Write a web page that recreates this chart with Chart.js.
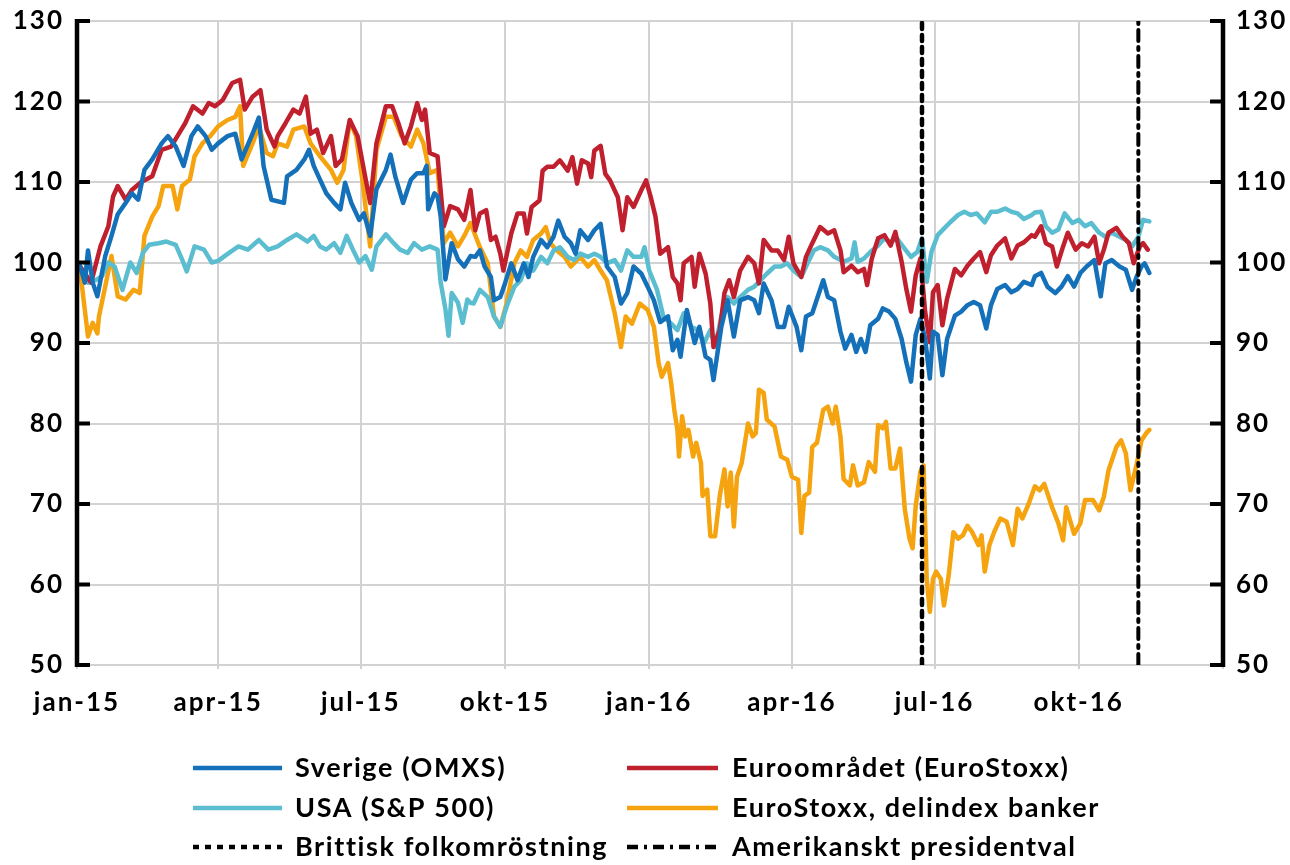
<!DOCTYPE html>
<html><head><meta charset="utf-8">
<script src="https://cdn.jsdelivr.net/npm/chart.js@4.4.1/dist/chart.umd.min.js"></script>
<style>
html,body{margin:0;padding:0;background:#fff;}
#wrap{position:relative;width:1290px;height:865px;}
</style></head><body>
<div id="wrap"><canvas id="c" width="1290" height="865"></canvas></div>
<script>
// x values: days since 1 Jan 2015
const quarterDays = [0, 90, 181, 273, 365, 456, 547, 639, 731];
const quarterLabels = ['jan-15','apr-15','jul-15','okt-15','jan-16','apr-16','jul-16','okt-16',''];
const yTicks = [50,60,70,80,90,100,110,120,130];

const seriesNames = ['Sverige (OMXS)','Euroområdet (EuroStoxx)','USA (S&P 500)','EuroStoxx, delindex banker'];
const eventNames = ['Brittisk folkomröstning','Amerikanskt presidentval'];
const eventDays = [539, 677];

const omxsDays = [0,2,5,7,10,13,18,22,26,31,35,39,43,48,54,58,63,68,73,77,82,86,90,96,101,105,112,116,119,124,132,134,140,145,148,151,155,159,164,168,171,175,180,183,187,191,197,200,203,208,213,217,221,223,224,228,230,232,235,239,243,247,251,254,257,260,264,266,270,273,277,281,285,288,291,296,300,304,307,311,315,318,321,326,330,334,338,343,347,351,355,360,364,368,372,377,380,383,385,389,394,397,401,404,406,411,415,419,423,428,432,435,438,443,447,451,454,459,462,465,469,476,479,483,487,490,494,497,500,503,506,511,514,518,522,526,529,532,535,538,541,544,546,549,552,555,560,564,568,572,576,580,583,587,592,596,600,604,609,611,615,619,624,628,632,636,640,644,649,653,656,660,665,669,673,676,679,681,684];
const omxsVals = [100,99.5,97.5,101.5,97.5,95.8,100.8,103.3,106,107.4,108.6,107.8,111.5,112.8,114.8,115.7,114.4,112,115.7,116.9,115.7,114,114.8,115.7,116,112.8,116,118,112,107.8,107.4,110.7,111.5,112.8,114,112,110.3,108.6,107.4,106.6,109.9,107.4,105.3,106.1,103.3,109.1,111.5,113.4,110.7,107.4,110.3,111.1,111.1,112,106.6,108.6,108.2,105.7,97.9,102.4,100.4,99.5,100.8,100.7,101.5,99.5,98.2,95.3,95.7,97.4,99.9,97.8,99.9,98.2,100.7,102.8,101.9,103.2,105.2,103.2,102.4,101.1,104,102.8,104,104.8,99.5,98.2,94.9,96.2,99.5,98.6,97,95.3,92.6,93.3,89.1,90.4,88.3,94.1,90,92,88.3,87.9,85.4,92,95.3,90.8,95.3,95.7,95.3,93.7,97.4,95.3,92,92,94.5,92,89.1,93.3,93.7,97.8,95.7,95.3,91.4,89.3,91,88.9,90.5,88.9,92.2,93,94.3,93.9,93,90.5,87.6,85.2,91,93,90.5,85.6,91.4,91,86,90.5,93.4,93.9,94.7,95.1,94.7,91.8,94.7,96.7,97.2,96.3,96.7,97.6,97.2,98.3,98.7,97,96.2,97,98.3,97,98.7,99.5,100.3,95.8,99.9,100.3,99.5,99.1,96.6,98.3,99.5,99.9,98.7];

const euroDays = [0,2,9,15,20,23,26,31,35,41,48,54,60,65,69,74,80,84,88,93,99,104,107,112,117,121,126,128,133,138,142,146,149,153,157,162,165,169,174,179,183,187,191,197,201,205,209,213,217,220,222,225,230,234,238,243,247,251,254,257,261,264,267,270,272,277,281,285,287,290,295,297,300,304,308,313,316,319,322,326,328,330,334,337,340,345,348,351,355,360,363,366,369,372,377,380,383,385,387,392,394,397,401,404,406,410,413,416,419,423,428,432,435,438,443,447,451,454,457,462,465,469,474,479,483,487,489,494,498,502,504,507,511,515,519,522,526,529,532,535,538,541,544,546,549,552,555,560,564,568,572,576,580,583,587,592,596,600,604,609,611,615,618,622,625,629,632,637,641,645,649,652,655,658,663,667,671,674,678,680,683];
const euroVals = [100,99.5,97.5,102,104.5,108.2,109.5,107.8,109,110,110.7,114,114.4,116,117.3,119.4,118.5,119.8,119.4,120.2,122.3,122.7,119,120.6,121.4,116.5,114.4,115.7,117.3,119,118.5,120.6,116,116.5,113.6,115.7,112,112.8,117.7,115.7,111.5,107.4,114.8,119.4,119.4,117.3,114.8,116.9,119.8,117.7,119,113.6,113.2,104.5,107,106.6,105.3,109,104,106.1,106.5,102.8,103.2,101.1,99,103.6,106.1,106.1,103.6,106.9,107.7,111.4,111.9,111.9,112.7,111.4,113.1,109.8,112.7,112.3,110.6,113.9,114.5,111,110.2,108.1,104,108.1,106.9,109,110.2,108.1,105.7,101.1,101.9,98.2,97.4,95.3,99.9,100.7,97,101.1,98.6,94.9,89.5,91.6,96.2,97.8,95.7,99,100.7,99.9,97.4,102.8,101.5,101.5,100.3,103.2,99.9,98.2,100.7,102.4,104.4,103.6,104,101.5,98.8,99.6,98.8,99.2,97.2,100.5,103,103.4,102.1,103.8,100.1,96.7,93.9,98.4,100.5,93.9,90.1,96.3,97.2,92.2,95.5,99.2,98.4,99.6,100.5,101.3,98.8,100.9,102.1,103,100.5,102.1,102.5,103.4,103.2,104.5,102.4,102,99.5,102,103.7,101.6,102.4,102,103.2,99.9,101.6,103.7,104.3,103.2,102.4,99.9,102,102.4,101.6];

const usaDays = [0,2,7,12,16,20,24,29,34,38,42,46,52,57,63,67,70,75,81,86,90,97,103,109,116,122,128,134,140,147,151,155,159,164,168,172,176,180,184,188,191,197,202,206,211,215,220,225,230,232,235,237,239,243,246,249,251,253,257,262,266,270,274,279,283,287,291,296,300,304,308,313,317,321,326,330,334,338,343,347,351,355,360,362,365,370,374,379,383,387,392,396,400,404,407,411,415,419,423,428,432,436,440,445,449,453,457,462,466,470,474,479,483,487,489,494,496,498,502,506,511,515,519,523,528,532,536,539,542,545,549,553,557,562,566,570,574,579,583,587,592,596,600,604,609,611,615,618,622,626,630,635,639,643,647,652,656,660,665,669,673,677,680,684];
const usaVals = [100,99.5,97.5,97.8,98.3,100,99.5,96.6,100,98.7,101.2,102.2,102.4,102.6,102.2,100.4,98.9,102,101.6,100,100.2,101.2,102,101.6,102.8,101.6,102,102.8,103.5,102.6,103.3,102,101.6,102.4,101.2,103.3,101.6,100,100.8,99.1,102,103.5,102.4,101.6,101.2,102.4,101.6,102,101.6,97.5,94.2,90.9,96.2,95,92.5,95.4,95,94.9,96.6,95.7,93.3,92,94.5,97,97.8,99.9,99,100.7,99.9,101.5,101.9,100.7,100.3,101.1,100.7,101.1,100.7,99.9,100.3,99,101.5,100.7,100.7,101.9,99,96.6,93.3,92.4,91.6,93.7,92,91.6,90,91.6,89.5,93.3,95.7,94.9,95.7,96.6,97,97.8,98.6,99.5,99.5,99.9,99,98.2,99.9,101.5,101.9,101.5,100.7,100.3,100.1,100.5,102.5,100.1,100.5,101.3,102.1,103,102.5,103,101.7,100.7,101.3,103,97.6,101.3,103.4,104.2,105,105.9,106.3,105.9,106.1,105,106.3,106.3,106.7,106.3,106.1,105.4,105.9,106.2,106.3,104.5,103.7,104.1,106.1,104.9,105.3,104.5,104.9,103.7,103.2,103.7,103.2,102.8,102,103.2,105.3,105.1];

const bankDays = [0,2,7,10,13,14,18,22,26,31,36,40,43,48,52,55,61,64,67,72,75,80,85,90,96,101,104,106,112,116,121,125,128,134,138,145,149,155,162,166,170,174,178,182,187,191,197,202,207,213,217,221,225,230,234,238,243,247,251,257,262,266,270,274,279,283,287,291,296,299,302,306,311,315,321,326,330,334,338,343,347,350,354,359,364,368,371,373,377,379,381,383,384,386,388,390,393,395,398,399,402,404,407,410,413,415,417,419,421,424,428,431,433,435,438,440,445,449,453,456,460,462,464,467,469,472,476,479,482,484,487,489,493,495,498,502,505,509,511,514,516,519,522,525,528,531,533,535,538,540,542,544,546,548,551,553,556,559,562,565,568,571,575,577,579,582,585,589,593,597,600,603,607,611,614,617,622,626,629,631,636,640,643,648,652,655,658,663,666,669,672,676,679,682,684];
const bankVals = [100,99,90.8,92.5,91.2,93.3,97,100.8,95.8,95.4,96.6,96.2,103.3,105.7,107,109.5,109.5,106.6,109.5,110.3,113.2,114.8,115.7,116.9,117.7,118.1,119.4,112,114.8,116.9,113.6,113.2,114.8,114.4,116.5,116.9,114.8,113.2,111.5,109.9,111.5,117.7,115.7,110.3,102,114,118.1,118.1,115.7,114.4,116.5,114.8,111.1,111.5,102.4,103.7,102,103.3,104.9,101.9,99.9,93.3,92,94.9,99.9,101.5,100.7,102.8,103.6,104.4,102.4,101.5,100.7,99.5,100.7,99.5,100.3,99,97.8,93.7,89.5,93.3,92.4,94.9,94.1,92,87.5,85.8,87.5,85,81.7,79.2,75.9,80.9,78.4,79.2,75.9,77.6,75.1,71,71.8,66,66,71,74.3,69.7,73.9,67.2,73.4,75.1,80,78.4,78.8,84.2,83.8,80.5,79.6,75.9,75.5,73.4,73,66.4,71,71.4,77.1,77.6,81.7,82.1,80,82.1,78.4,73.1,72.3,74.8,72.3,72.7,75.2,74,79.8,79.4,80.2,74.4,74.4,76.9,69.4,65.7,64.5,69.8,74,74.8,60.7,56.6,60.7,61.6,60.7,57.4,61.1,66.5,65.7,66.1,67.3,66.5,64.9,66.1,61.6,64.9,66.5,68.2,67.8,64.9,69.4,68.2,70,72.2,71.7,72.5,69.6,67.6,65.5,69.6,66.3,67.6,70.5,70.5,69.2,70.9,74.2,77.1,77.9,76.3,71.7,75,77.9,78.8,79.2];

const colors = ['#1470B8', '#C01F2E', '#5BBDD0', '#F5A30F'];

function pts(days, vals) { return days.map((d, i) => ({ x: d, y: vals[i] })); }
function eventLine(i) { return [{ x: eventDays[i], y: 50 }, { x: eventDays[i], y: 130 }]; }

const dashBrexit = [6, 6];
const dashElection = [11, 6, 3, 6];
const FONT = 'Lato, "Open Sans", sans-serif';

const spacingPlugin = {
  id: 'spacing',
  beforeDraw(chart) { try { chart.ctx.letterSpacing = '2px'; } catch (e) {} }
};

const framePlugin = {
  id: 'frame',
  afterDraw(chart) {
    const ctx = chart.ctx;
    const a = chart.chartArea;
    const ys = chart.scales.y;
    ctx.save();
    ctx.strokeStyle = '#000';
    ctx.lineCap = 'butt';
    ctx.lineWidth = 4.5;
    ctx.beginPath();
    ctx.moveTo(a.left, a.top - 2); ctx.lineTo(a.left, a.bottom + 2);
    ctx.moveTo(a.right, a.top - 2); ctx.lineTo(a.right, a.bottom + 2);
    ctx.stroke();
    ctx.lineWidth = 4;
    ctx.beginPath();
    yTicks.forEach(v => {
      const y = ys.getPixelForValue(v);
      ctx.moveTo(a.left, y); ctx.lineTo(a.left + 13, y);
      ctx.moveTo(a.right - 13, y); ctx.lineTo(a.right, y);
    });
    ctx.stroke();

    // legend
    const baselines = [777, 817, 856];
    const cols = [{ x0: 193, x1: 282, tx: 295 }, { x0: 627, x1: 718, tx: 732 }];
    const items = [
      { name: seriesNames[0], color: colors[0], dash: [], col: 0, row: 0 },
      { name: seriesNames[1], color: colors[1], dash: [], col: 1, row: 0 },
      { name: seriesNames[2], color: colors[2], dash: [], col: 0, row: 1 },
      { name: seriesNames[3], color: colors[3], dash: [], col: 1, row: 1 },
      { name: eventNames[0], color: '#000', dash: dashBrexit, col: 0, row: 2 },
      { name: eventNames[1], color: '#000', dash: dashElection, col: 1, row: 2 }
    ];
    ctx.font = 'bold 27px ' + FONT;
    try { ctx.letterSpacing = '1.6px'; } catch (e) {}
    ctx.textBaseline = 'alphabetic';
    ctx.textAlign = 'left';
    items.forEach(it => {
      const c = cols[it.col];
      const b = baselines[it.row];
      ctx.strokeStyle = it.color;
      ctx.lineWidth = 4.5;
      ctx.setLineDash(it.dash);
      ctx.beginPath();
      ctx.moveTo(c.x0, b - 9); ctx.lineTo(c.x1, b - 9);
      ctx.stroke();
      ctx.setLineDash([]);
      ctx.fillStyle = '#000';
      ctx.fillText(it.name, c.tx, b);
    });
    ctx.restore();
  }
};

const tickFont = { family: FONT, size: 26, weight: 'bold' };
function fixV(w) { return s => { s.width = w; s.paddingTop = 0; s.paddingBottom = 0; }; }

new Chart(document.getElementById('c'), {
  type: 'line',
  data: {
    datasets: [
      { label: eventNames[0], data: eventLine(0), borderColor: '#000', borderWidth: 4.5, borderDash: dashBrexit, pointRadius: 0 },
      { label: eventNames[1], data: eventLine(1), borderColor: '#000', borderWidth: 4, borderDash: dashElection, pointRadius: 0 },
      { label: seriesNames[0], data: pts(omxsDays, omxsVals), borderColor: colors[0], borderWidth: 4.5, pointRadius: 0 },
      { label: seriesNames[1], data: pts(euroDays, euroVals), borderColor: colors[1], borderWidth: 4.5, pointRadius: 0 },
      { label: seriesNames[2], data: pts(usaDays, usaVals), borderColor: colors[2], borderWidth: 4.5, pointRadius: 0 },
      { label: seriesNames[3], data: pts(bankDays, bankVals), borderColor: colors[3], borderWidth: 4.5, pointRadius: 0 }
    ]
  },
  options: {
    responsive: false,
    animation: false,
    devicePixelRatio: 1,
    layout: { padding: { top: 21, left: 0, right: 0, bottom: 0 } },
    elements: { line: { tension: 0, borderJoinStyle: 'round', borderCapStyle: 'round' } },
    plugins: { legend: { display: false }, tooltip: { enabled: false } },
    scales: {
      x: {
        type: 'linear', min: 0, max: 731,
        afterBuildTicks: s => { s.ticks = quarterDays.map(v => ({ value: v })); },
        afterFit: s => { s.height = 200; },
        grid: { color: '#d2d2d2', lineWidth: 2, drawTicks: true, tickLength: 4, tickColor: '#d2d2d2' },
        border: { display: false },
        ticks: {
          autoSkip: false, maxRotation: 0, minRotation: 0, padding: 18, color: '#000', font: tickFont,
          callback: v => { const i = quarterDays.indexOf(v); return i >= 0 ? quarterLabels[i] : ''; }
        }
      },
      y: {
        position: 'left', min: 50, max: 130,
        afterBuildTicks: s => { s.ticks = yTicks.map(v => ({ value: v })); },
        afterFit: fixV(77),
        grid: { color: '#d2d2d2', lineWidth: 2, drawTicks: false },
        border: { display: false },
        ticks: { padding: 13, color: '#000', font: tickFont }
      },
      y2: {
        position: 'right', min: 50, max: 130,
        afterBuildTicks: s => { s.ticks = yTicks.map(v => ({ value: v })); },
        afterFit: fixV(67),
        grid: { display: false, drawTicks: false },
        border: { display: false },
        ticks: { padding: 13, color: '#000', font: tickFont }
      }
    }
  },
  plugins: [spacingPlugin, framePlugin]
});
</script>
</body></html>
